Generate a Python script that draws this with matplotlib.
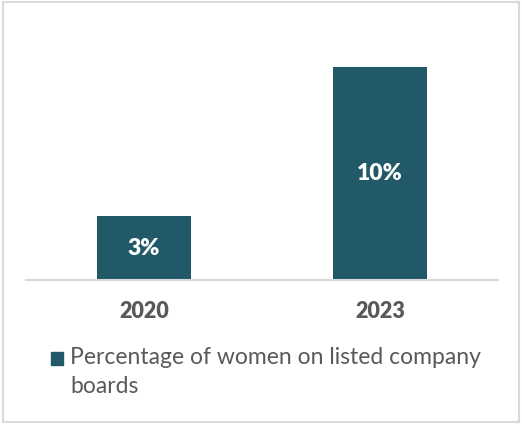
import matplotlib.pyplot as plt
from matplotlib.patches import Rectangle

# %% Data
years = ["2020", "2023"]
share = [3, 10]  # % of women on listed company boards
series_label = "Percentage of women on listed company\nboards"

BAR_COLOR = "#215968"
TEXT_GRAY = "#595959"
LINE_GRAY = "#d9d9d9"

plt.rcParams["font.family"] = ["Lato", "DejaVu Sans"]

W, H = 522, 424
fig = plt.figure(figsize=(W / 100, H / 100), dpi=100)

# plot area: x 26..498 px, baseline at y=280, 21.3 px per percent
ppu = 21.3
top_val = 12
ax = fig.add_axes([26 / W, (H - 280) / H, (498 - 26) / W, top_val * ppu / H])

x = range(len(years))
bars = ax.bar(x, share, width=0.4, color=BAR_COLOR)
ax.set_xlim(-0.5, len(years) - 0.5)
ax.set_ylim(0, top_val)

for b, v in zip(bars, share):
    ax.text(b.get_x() + b.get_width() / 2, v / 2, f"{v}%", ha="center", va="center",
            color="white", fontsize=16.5, fontweight="heavy")

ax.set_xticks(list(x))
ax.set_xticklabels(years, fontsize=15.5, fontweight="heavy", color=TEXT_GRAY)
ax.tick_params(axis="x", length=0, pad=15)
ax.set_yticks([])
for s in ["top", "left", "right"]:
    ax.spines[s].set_visible(False)
ax.spines["bottom"].set_color(LINE_GRAY)
ax.spines["bottom"].set_linewidth(1.5)

# legend drawn by hand so the marker sits beside the first line
fig.patches.append(Rectangle((51 / W, (H - 365) / H), 12 / W, 13 / H,
                             transform=fig.transFigure, color=BAR_COLOR))
fig.text(70 / W, (H - 347) / H, series_label, ha="left", va="top",
         fontsize=16.5, color=TEXT_GRAY, linespacing=1.45)

# outer frame
fig.patches.append(Rectangle((3 / W, 2 / H), (W - 6) / W, (H - 4) / H,
                             transform=fig.transFigure, fill=False,
                             edgecolor=LINE_GRAY, linewidth=1.5))

fig.savefig("out.png", dpi=100)
